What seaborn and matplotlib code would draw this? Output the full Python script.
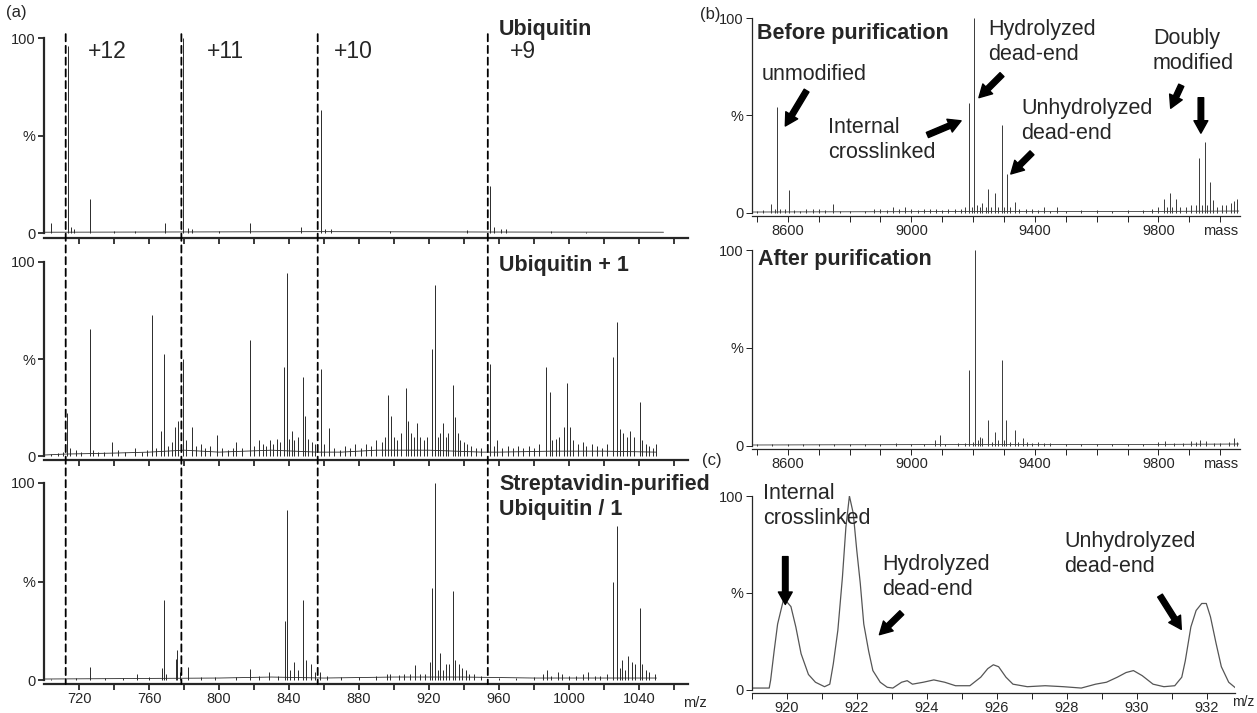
import numpy as np
import pandas as pd
import matplotlib.pyplot as plt
import seaborn as sns
from matplotlib.patches import ConnectionPatch

# --------------------------------------------
# Data
# --------------------------------------------

# (a) ubiquitin charge states (dashed guide lines)
charge_mz = [712.4, 778.5, 856.4, 953.6]
charge_labels = ['+12', '+11', '+10', '+9']

# (a) top: Ubiquitin
a1_mz = [704.2, 713.7, 715.5, 717.0, 726.0, 740.0, 752.0, 769.1, 779.4, 782.5, 784.5,
         800.0, 817.9, 847.1, 858.2, 860.5, 864.0, 898.0, 942.0, 954.9, 957.0, 961.0,
         964.0, 990.0, 1010.0]
a1_int = [5, 96, 3, 2, 17.5, 1, 1, 5, 100, 2.5, 2,
          0.8, 5, 3, 63, 2, 2, 0.8, 1.5, 24, 3, 2,
          2, 0.8, 0.6]
a1_base_mz = [700, 760, 860, 960, 1054]
a1_base_int = [0.4, 0.5, 0.7, 0.5, 0.4]

# (a) middle: Ubiquitin + 1
a2_mz = [704, 708, 711, 713.2, 715, 718, 721, 726.0, 728, 731, 734, 739, 742, 746, 752, 756,
         759, 761.9, 764, 767.0, 768.6, 771, 773, 775.0, 776.5, 779.4, 781, 784.3, 787, 790,
         792, 795, 798.6, 802, 805, 808, 810, 813, 817.9, 820, 822.9, 825, 827, 829, 831, 833,
         835, 837.1, 838.9, 840, 841.5, 843, 845, 847.9, 849.2, 851, 853, 855, 858.2, 860,
         862.8, 866, 869, 872, 875, 878, 881, 884, 887, 890, 893, 895, 896.7, 898.5, 900, 902,
         904, 906.9, 908, 910, 911.5, 913.3, 915, 917, 919, 921.8, 923.6, 925, 926.3, 927.8,
         929.5, 931, 933.5, 935, 936.5, 938, 940, 942, 944, 947, 950, 954.9, 957, 959, 962,
         965, 968, 971, 974, 977, 980, 983, 986.9, 988.9, 990.5, 992.5, 994.5, 997.2, 998.8,
         1000.6, 1002.5, 1005, 1008, 1010, 1013, 1016, 1019, 1022, 1024.9, 1027.5, 1029, 1031,
         1033, 1035, 1037, 1040.6, 1042, 1044, 1046, 1048, 1050]
a2_int = [1, 1.5, 2, 22, 4, 3, 2, 65.5, 3, 2, 2, 7, 3, 2, 4, 2,
          3, 72.8, 4, 12.8, 52.4, 5, 7, 15, 18, 50, 8, 15, 5, 6,
          4, 5, 10.7, 4, 3, 4, 7, 4, 60, 5, 8, 6, 5, 8, 6, 9,
          7, 46, 94.4, 9, 12.8, 8, 10, 40.8, 20.4, 9, 7, 6, 45, 6,
          14.5, 4, 3, 5, 4, 6, 4, 6, 5, 8, 7, 10, 31.5, 20.4, 10, 8,
          12, 35, 18, 12, 10, 17, 10, 8, 10, 55.3, 88.4, 10, 12, 17,
          10, 12, 36.6, 20, 12, 8, 7, 6, 5, 4, 4, 47.6, 5, 8, 4,
          5, 4, 5, 4, 5, 4, 6, 46, 33, 8, 9, 10, 15, 37.4,
          15, 8, 6, 7, 5, 6, 5, 4, 6, 51, 68.9, 14, 12,
          10, 13, 10, 28, 8, 6, 5, 4, 6]
a2_base_mz = [700, 712, 740, 760, 780, 800, 830, 856, 870, 890, 920, 950, 960, 990, 1020, 1050]
a2_base_int = [0.5, 1, 1.5, 2, 3, 2, 3, 2, 2, 3, 3, 2, 2, 2.5, 2.5, 2]

# (a) bottom: Streptavidin-purified Ubiquitin / 1
a3_mz = [704, 712, 718, 726.0, 735, 745, 753, 760, 767.5, 768.3, 770, 775.3, 776, 778, 782.5,
         790, 798, 810, 817.9, 823, 828.6, 834, 837.6, 838.9, 840.5, 842.8, 845, 847.9, 850,
         852.5, 855, 858, 862, 870, 880, 890, 896, 898, 903, 906, 909, 912.0, 915, 918, 920.5,
         921.8, 923.6, 925, 926.3, 928, 930, 931.5, 933.5, 935, 937, 939, 941, 943, 946, 950,
         960, 970, 980, 985, 987.5, 990, 994, 996, 1000, 1004, 1008, 1011, 1015, 1018, 1022,
         1024.9, 1027.5, 1029, 1030.5, 1032, 1034, 1036, 1037.5, 1040.6, 1042, 1044, 1046, 1049]
a3_int = [0.5, 1, 1, 6.8, 1, 1, 3, 1.5, 6, 40.7, 3, 10.5, 15, 4, 6.4,
          1.5, 1.5, 1.5, 5.4, 2, 4, 2, 29.7, 86.4, 5, 9.3, 5, 40.7, 10,
          8, 4, 4, 2, 1.5, 1.5, 2, 3, 3, 2.5, 3, 3, 7.6, 3, 3, 9,
          46.6, 100, 5, 13.6, 5, 8, 8, 45, 10, 8, 6, 5, 3, 3, 2,
          1, 1, 1.5, 3, 5, 2, 4, 3, 2, 2, 3, 4, 2, 2, 3,
          50, 78, 6, 10, 5, 12, 9, 8, 36.4, 8, 5, 4, 3]
a3_base_mz = [700, 760, 800, 830, 860, 900, 940, 980, 1020, 1050]
a3_base_int = [0.5, 0.8, 1, 1.5, 1, 1.5, 1.5, 1, 1, 1]

# (b) deconvoluted spectra, before / after purification
b1_mass = [8500, 8520, 8546, 8558, 8565, 8575, 8590, 8604, 8620, 8640, 8660, 8680, 8700, 8720,
           8747, 8770, 8800, 8850, 8880, 8900, 8920, 8940, 8960, 8980, 9000, 9020, 9040, 9060,
           9080, 9100, 9120, 9140, 9160, 9175, 9188, 9195, 9204, 9212, 9222, 9230, 9240, 9247,
           9258, 9272, 9282, 9292, 9300, 9310, 9320, 9334, 9350, 9370, 9390, 9410, 9430, 9450,
           9470, 9500, 9550, 9600, 9650, 9700, 9750, 9780, 9800, 9817, 9827, 9837, 9845, 9858,
           9870, 9890, 9905, 9920, 9932, 9940, 9950, 9958, 9967, 9978, 9990, 10005, 10020,
           10035, 10045, 10055]
b1_int = [1, 1.5, 4.8, 2, 54.5, 2, 2, 11.7, 1.5, 1, 2, 2, 2, 1.5,
          4.8, 1, 1, 1, 2, 2, 1.5, 3, 2, 3, 2, 1.5, 2, 2,
          2, 1.5, 2, 2, 2, 3, 56.6, 3, 100, 4, 3, 5, 3, 12.5,
          3, 10, 3, 45, 3, 20.2, 3, 5.7, 2, 2, 2, 1.5, 3, 1,
          3, 1, 1.5, 1.5, 1, 1.5, 1.5, 2, 3, 7.4, 3, 10, 3, 7,
          3, 3, 4, 4, 28, 4, 36.5, 4, 16, 6.5, 3, 4, 4,
          5, 6, 7]
b2_mass = [8500, 8550, 8600, 8650, 8700, 8750, 8800, 8850, 8900, 8950, 9000, 9040, 9075, 9092,
           9110, 9150, 9175, 9188, 9198, 9207, 9215, 9222, 9230, 9247, 9260, 9272, 9282, 9292,
           9300, 9307, 9320, 9334, 9345, 9360, 9375, 9390, 9410, 9430, 9450, 9500, 9550, 9600,
           9650, 9700, 9750, 9800, 9820, 9850, 9880, 9905, 9920, 9935, 9955, 9980, 10000,
           10030, 10045, 10055]
b2_int = [0.8, 0.8, 1, 1, 1, 1.2, 1, 1, 1.2, 1.5, 1, 1, 3, 5.7,
          1, 1.5, 1.5, 38.6, 2, 100, 3, 4.5, 4, 13.5, 2, 7, 3, 43.8,
          3, 13.5, 2, 8.3, 2, 4, 2, 1.5, 2, 1.5, 1.5, 1, 1, 1,
          1, 1, 1, 2, 2.5, 1.5, 1.5, 2.5, 2, 3, 2.5, 1.5, 1.5,
          2, 4, 2]
b_base_mass = [8483, 8700, 9000, 9200, 9400, 9800, 10060]
b_base_int = [0.5, 0.6, 0.7, 0.8, 0.7, 0.8, 1.0]

# (c) zoom on the +10 envelope
c_mz = [919.0, 919.5, 919.54, 919.64, 919.74, 919.9, 920.0, 920.12, 920.26, 920.41, 920.62,
        920.82, 921.08, 921.23, 921.33, 921.46, 921.59, 921.69, 921.79, 921.9, 922.0, 922.1,
        922.2, 922.34, 922.46, 922.67, 922.87, 923.03, 923.28, 923.44, 923.59, 923.9, 924.2,
        924.51, 924.82, 925.23, 925.54, 925.74, 925.9, 926.05, 926.26, 926.46, 926.87, 927.38,
        927.9, 928.41, 928.82, 929.13, 929.44, 929.69, 929.9, 930.15, 930.46, 930.77, 931.08,
        931.28, 931.38, 931.54, 931.69, 931.85, 931.98, 932.1, 932.26, 932.41, 932.62, 932.82]
c_int = [1, 1, 5, 20, 34, 46, 45.5, 43, 32.5, 18.7, 8,
         4, 1.7, 3, 13.5, 30.8, 58, 84, 100, 91, 72, 55,
         34, 20, 10, 4, 1.4, 1, 4, 4.8, 3, 4, 5.2,
         4, 2.2, 2.2, 6.6, 11, 13, 12, 6.6, 3, 1.7, 2.2,
         1.7, 1, 3, 4, 6.6, 9, 10, 7.4, 3, 1.7, 2.2,
         6.6, 15, 32.5, 41, 44.6, 44.6, 37.7, 24, 12, 4, 1]

# tick positions / labels
a_xticks = list(range(720, 1061, 20))
a_xticklabels = ['720', '', '760', '', '800', '', '840', '', '880', '', '920', '', '960', '',
                 '1000', '', '1040', '']
b_xticks = list(range(8500, 10001, 100))
b_xticklabels = ['', '8600', '', '', '', '9000', '', '', '', '9400', '', '', '', '9800', '', 'mass']
c_xticks = list(range(919, 933))
c_xticklabels = ['', '920', '', '922', '', '924', '', '926', '', '928', '', '930', '', '932']

# --------------------------------------------
# Figure
# --------------------------------------------
sns.set_style("ticks")
plt.rcParams['font.family'] = ['Liberation Sans', 'DejaVu Sans']

W, H = 1257, 713
fig = plt.figure(figsize=(W / 100, H / 100), dpi=100)


def add_ax(x0, x1, ytop, ybot):
    return fig.add_axes([x0 / W, 1 - ybot / H, (x1 - x0) / W, (ybot - ytop) / H])


def style_ax(ax, lw, xticks, xlabels, ylow, show_labels=True):
    sns.despine(ax=ax)
    ax.spines['left'].set_linewidth(lw)
    ax.spines['bottom'].set_linewidth(lw)
    ax.spines['left'].set_bounds(0, 100)
    ax.set_ylim(ylow, 100)
    ax.set_yticks([0, 50, 100])
    ax.set_yticklabels(['0', '%', '100'])
    ax.set_xticks(xticks)
    ax.set_xticklabels(xlabels if show_labels else [''] * len(xticks))
    ax.tick_params(direction='out', length=4, width=lw * 0.8, labelsize=10.5, pad=2)
    ax.set_xlabel('')
    ax.set_ylabel('')
    ax.patch.set_alpha(0)


def stick_plot(ax, mz, inten, base_x, base_y, color='#2a2a2a'):
    sns.lineplot(x=base_x, y=base_y, ax=ax, color=color, lw=0.6, estimator=None)
    ax.vlines(mz, 0, inten, color=color, lw=0.7)


# ---- panel (a) ----
ax_a1 = add_ax(44, 688, 38, 238)
ax_a2 = add_ax(44, 688, 262, 460)
ax_a3 = add_ax(44, 688, 483, 684)

stick_plot(ax_a1, a1_mz, a1_int, a1_base_mz, a1_base_int)
stick_plot(ax_a2, a2_mz, a2_int, a2_base_mz, a2_base_int)
stick_plot(ax_a3, a3_mz, a3_int, a3_base_mz, a3_base_int)

for ax, ylow, lab in [(ax_a1, -2.56, False), (ax_a2, -2.06, False), (ax_a3, -2.03, True)]:
    ax.set_xlim(700, 1068)
    style_ax(ax, 1.6, a_xticks, a_xticklabels, ylow, lab)

for x in charge_mz:
    con = ConnectionPatch(xyA=(x, 102), coordsA=ax_a1.transData,
                          xyB=(x, -2.03), coordsB=ax_a3.transData,
                          linestyle=(0, (4, 2.5)), lw=1.3, color='black')
    fig.add_artist(con)

# ---- panel (b) ----
ax_b1 = add_ax(751.7, 1240, 18, 216)
ax_b2 = add_ax(751.7, 1240, 250, 449)
stick_plot(ax_b1, b1_mass, b1_int, b_base_mass, b_base_int, color='#3a3a3a')
stick_plot(ax_b2, b2_mass, b2_int, b_base_mass, b_base_int, color='#3a3a3a')
for ax in (ax_b1, ax_b2):
    ax.set_xlim(8483, 10064)
    style_ax(ax, 0.9, b_xticks, b_xticklabels, -1.54)

# ---- panel (c) ----
ax_c = add_ax(751.7, 1235, 496, 693)
sns.lineplot(x=c_mz, y=c_int, ax=ax_c, color='#555555', lw=0.9, estimator=None)
ax_c.set_xlim(919.0, 932.8)
style_ax(ax_c, 0.9, c_xticks, c_xticklabels, -1.55)

# --------------------------------------------
# Text and arrows (pixel overlay)
# --------------------------------------------
ov = fig.add_axes([0, 0, 1, 1], zorder=10)
ov.set_xlim(0, W)
ov.set_ylim(H, 0)
ov.axis('off')
ov.patch.set_alpha(0)

big = 15.5
ov.text(6, 12, '(a)', fontsize=12, va='center')
ov.text(700, 15, '(b)', fontsize=12, va='center')
ov.text(702, 461, '(c)', fontsize=12, va='center')

for x, lab in zip([107, 225, 353, 523], charge_labels):
    ov.text(x, 51, lab, fontsize=16.5, ha='center', va='center')

ov.text(499, 30, 'Ubiquitin', fontsize=big, fontweight='bold', va='center')
ov.text(499, 266, 'Ubiquitin + 1', fontsize=big, fontweight='bold', va='center')
ov.text(499, 497, 'Streptavidin-purified\nUbiquitin / 1', fontsize=big, fontweight='bold',
        va='center', linespacing=1.25)
ov.text(683, 703, 'm/z', fontsize=10.5, va='center')
ov.text(1232, 702, 'm/z', fontsize=10, va='center')

ov.text(757, 34, 'Before purification', fontsize=big, fontweight='bold', va='center')
ov.text(758, 260, 'After purification', fontsize=big, fontweight='bold', va='center')
ov.text(762, 74, 'unmodified', fontsize=big, va='center')
ov.text(828, 140, 'Internal\ncrosslinked', fontsize=big, va='center', linespacing=1.3)
ov.text(988, 42, 'Hydrolyzed\ndead-end', fontsize=big, va='center', linespacing=1.3)
ov.text(1021, 121, 'Unhydrolyzed\ndead-end', fontsize=big, va='center', linespacing=1.3)
ov.text(1153, 51, 'Doubly\nmodified', fontsize=big, va='center', linespacing=1.3)

ov.text(763, 506, 'Internal\ncrosslinked', fontsize=big, va='center', linespacing=1.3)
ov.text(882, 577, 'Hydrolyzed\ndead-end', fontsize=big, va='center', linespacing=1.3)
ov.text(1064, 554, 'Unhydrolyzed\ndead-end', fontsize=big, va='center', linespacing=1.3)

arrows = [((806.6, 90.6), (785.3, 126)), ((927.4, 135), (961.1, 120.8)),
          ((1002, 74.6), (978.9, 97.7)), ((1032, 152.8), (1010.8, 174)),
          ((1181.3, 85.3), (1170.7, 108.3)), ((1200.9, 97.7), (1200.9, 133.2)),
          ((785.3, 556.6), (785.3, 604.5)), ((901.8, 612.7), (879.4, 634.7)),
          ((1160, 595.6), (1181.3, 629.4))]
for tail, head in arrows:
    ov.annotate('', xy=head, xytext=tail,
                arrowprops=dict(arrowstyle='simple,head_length=0.45,head_width=0.5,tail_width=0.2',
                                mutation_scale=20, color='black', shrinkA=0, shrinkB=0))

fig.savefig('out.png', dpi=100)
